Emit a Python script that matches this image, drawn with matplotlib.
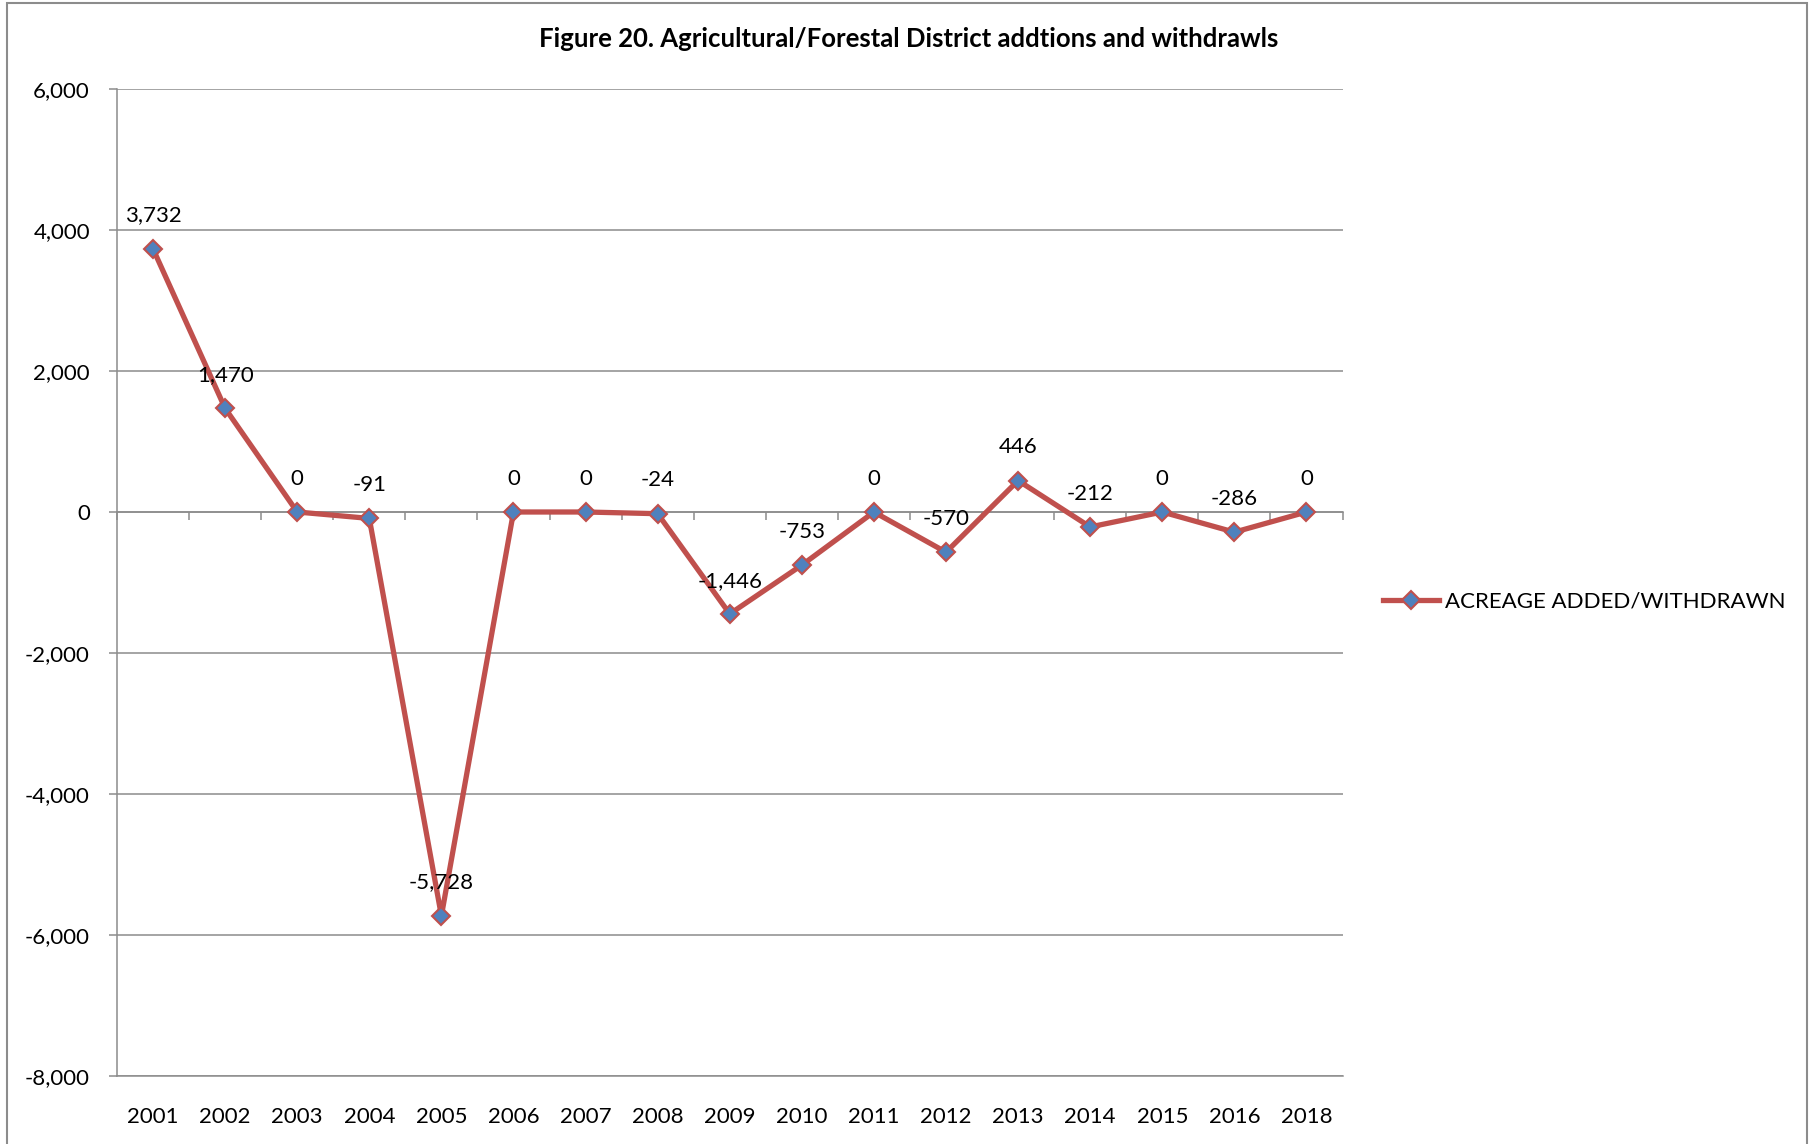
import numpy as np
from matplotlib import pyplot as plt
from matplotlib.patches import Rectangle
from matplotlib.lines import Line2D
from matplotlib.ticker import StrMethodFormatter

plt.rcParams['font.family'] = ['Lato', 'DejaVu Sans']
plt.rcParams['axes.unicode_minus'] = False

years = ['2001', '2002', '2003', '2004', '2005', '2006', '2007', '2008', '2009',
         '2010', '2011', '2012', '2013', '2014', '2015', '2016', '2018']
acreage = [3732, 1470, 0, -91, -5728, 0, 0, -24, -1446, -753, 0, -570, 446,
           -212, 0, -286, 0]
series_name = 'ACREAGE ADDED/WITHDRAWN'
title = 'Figure 20. Agricultural/Forestal District addtions and withdrawls'

line_col = '#C0504D'
marker_col = '#4F81BD'
grid_col = '#8C8C8C'

W, H = 1813, 1144
fig = plt.figure(figsize=(W / 100, H / 100), dpi=100)
ax = fig.add_axes([117 / W, 1 - 1076 / H, (1342.5 - 117) / W, (1076 - 89) / H])

x = np.arange(len(years))
ax.plot(x, acreage, color=line_col, lw=3.8, marker='D', markersize=9,
        markerfacecolor=marker_col, markeredgecolor=line_col, markeredgewidth=1.5,
        zorder=5, clip_on=False)

for i, v in enumerate(acreage):
    ax.annotate(f'{v:,}', (i, v), xytext=(0, 24), textcoords='offset points',
                ha='center', va='center', fontsize=16, zorder=6)

ax.set_xlim(-0.5, len(years) - 0.5)
ax.set_ylim(-8000, 6000)
ax.set_yticks(range(-8000, 6001, 2000))
ax.yaxis.set_major_formatter(StrMethodFormatter('{x:,.0f}'))
ax.tick_params(axis='y', direction='out', length=5.5, width=1.1, color=grid_col,
               labelsize=16, pad=14)
ax.grid(axis='y', color=grid_col, lw=1.1)
ax.set_axisbelow(True)

# horizontal axis crosses at zero, ticks between categories
ax.spines['bottom'].set_position(('data', 0))
ax.spines['bottom'].set_color(grid_col)
ax.spines['bottom'].set_linewidth(1.1)
ax.set_xticks(np.arange(len(years) + 1) - 0.5)
ax.set_xticklabels([])
ax.tick_params(axis='x', direction='out', length=6, width=1.1, color=grid_col)
ax.spines['left'].set_color(grid_col)
ax.spines['left'].set_linewidth(1.1)
ax.spines['top'].set_visible(False)
ax.spines['right'].set_visible(False)

# category labels sit at the bottom of the plot
sec = ax.secondary_xaxis('bottom')
sec.set_xticks(x, labels=years)
sec.tick_params(length=0, labelsize=16, pad=22)
sec.spines['bottom'].set_color(grid_col)
sec.spines['bottom'].set_linewidth(1.1)

fig.text(909 / W, 1 - 39 / H, title, ha='center', va='center',
         fontsize=18.5, fontweight='bold')

handle = Line2D([], [], color=line_col, lw=3.8, marker='D', markersize=9,
                markerfacecolor=marker_col, markeredgecolor=line_col,
                markeredgewidth=1.5)
fig.legend([handle], [series_name], loc='center left',
           bbox_to_anchor=(1383 / W, 1 - 602 / H), frameon=False, fontsize=16,
           handlelength=2.5, handletextpad=0.3, borderpad=0, borderaxespad=0)

fig.patches.append(Rectangle((7 / W, -0.01), (1807 - 7) / W, 1.01 - 3 / H,
                             transform=fig.transFigure, fill=False,
                             edgecolor=grid_col, lw=1.5))

fig.savefig('out.png', dpi=100)
